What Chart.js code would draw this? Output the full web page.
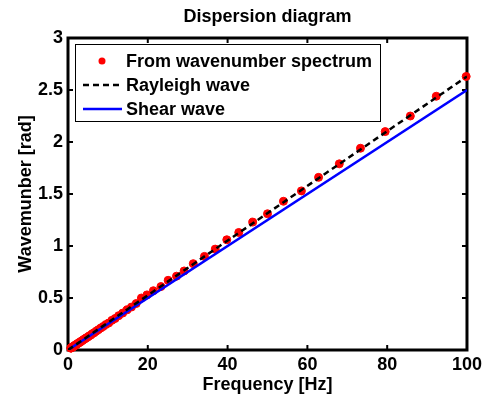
<!DOCTYPE html>
<html>
<head>
<meta charset="utf-8">
<script src="https://cdn.jsdelivr.net/npm/chart.js@4/dist/chart.umd.min.js"></script>
<style>
  html, body { margin: 0; padding: 0; background: #fff; }
  #wrap { width: 486px; height: 398px; }
</style>
</head>
<body>
<div id="wrap"><canvas id="chart" width="486" height="398"></canvas></div>
<script>
// measured points (Hz, rad)
const freqHz = [
  0.7, 0.76, 0.82, 0.88, 0.95, 1.02, 1.1, 1.19, 1.28, 1.38, 1.49, 1.6, 1.72, 1.86,
  2.0, 2.15, 2.32, 2.5, 2.69, 2.9, 3.12, 3.36, 3.62, 3.9, 4.2, 4.52, 4.87, 5.25,
  5.65, 6.1, 6.55, 7.05, 7.6, 8.2, 8.8, 9.5, 10.2, 11.0, 11.8, 12.7, 13.7, 14.8,
  15.9, 17.1, 18.4, 19.8, 21.4, 23.3, 25.1, 27.2, 29.1, 31.4, 34.2, 36.9, 39.8,
  42.8, 46.3, 50.0, 54.0, 58.5, 62.8, 68.0, 73.3, 79.5, 85.8, 92.3, 99.8
];
const wavenumber = [
  0.018, 0.019, 0.021, 0.022, 0.024, 0.026, 0.027, 0.030, 0.032, 0.035, 0.037, 0.041, 0.043, 0.047,
  0.050, 0.055, 0.058, 0.064, 0.067, 0.074, 0.078, 0.086, 0.091, 0.100, 0.106, 0.116, 0.122, 0.134,
  0.142, 0.157, 0.166, 0.181, 0.195, 0.211, 0.226, 0.245, 0.260, 0.285, 0.303, 0.330, 0.355, 0.386,
  0.413, 0.447, 0.50, 0.53, 0.57, 0.61, 0.67, 0.71, 0.76, 0.83, 0.90, 0.97, 1.06,
  1.13, 1.23, 1.31, 1.43, 1.53, 1.66, 1.79, 1.94, 2.10, 2.25, 2.44, 2.63
];
// theoretical curves
const lineFreq = [0, 100];
const rayleighK = [0, 2.63];
const shearK = [0, 2.5];
const seriesNames = ['From wavenumber spectrum', 'Rayleigh wave', 'Shear wave'];
const chartTitle = 'Dispersion diagram';

const pts = (xs, ys) => xs.map((v, i) => ({ x: v, y: ys[i] }));
const FONT = 'bold 18px Arial, "Liberation Sans", sans-serif';

Chart.defaults.font.family = 'Arial, "Liberation Sans", sans-serif';
Chart.defaults.font.size = 18;
Chart.defaults.font.weight = 'bold';
Chart.defaults.color = '#000';

// box + inward ticks like matlab, title centred on the axes
const frame = {
  id: 'frame',
  beforeDatasetsDraw(chart) {
    const { ctx, chartArea: a, scales: { x, y } } = chart;
    ctx.save();
    ctx.strokeStyle = '#000';
    ctx.lineWidth = 2;
    ctx.beginPath();
    x.ticks.forEach(t => {
      const px = x.getPixelForValue(t.value);
      ctx.moveTo(px, a.bottom); ctx.lineTo(px, a.bottom - 5);
      ctx.moveTo(px, a.top); ctx.lineTo(px, a.top + 5);
    });
    y.ticks.forEach(t => {
      const py = y.getPixelForValue(t.value);
      ctx.moveTo(a.left, py); ctx.lineTo(a.left + 5, py);
      ctx.moveTo(a.right, py); ctx.lineTo(a.right - 5, py);
    });
    ctx.stroke();
    ctx.lineWidth = 3;
    ctx.strokeRect(a.left, a.top, a.right - a.left, a.bottom - a.top);

    ctx.fillStyle = '#000';
    ctx.font = FONT;
    ctx.textAlign = 'center';
    ctx.textBaseline = 'middle';
    ctx.fillText(chartTitle, (a.left + a.right) / 2, 17);
    ctx.restore();
  }
};

const boxLegend = {
  id: 'boxLegend',
  afterDatasetsDraw(chart) {
    const { ctx, chartArea: a } = chart;
    const bx = a.left + 7, by = a.top + 6, bw = 305, bh = 77;
    ctx.save();
    ctx.fillStyle = '#fff';
    ctx.fillRect(bx, by, bw, bh);
    ctx.strokeStyle = '#000';
    ctx.lineWidth = 1;
    ctx.strokeRect(bx + 0.5, by + 0.5, bw, bh);
    chart.data.datasets.forEach((ds, i) => {
      const cy = by + 17 + i * 24;
      if (ds.showLine) {
        ctx.strokeStyle = ds.borderColor;
        ctx.lineWidth = ds.borderWidth;
        ctx.setLineDash(ds.borderDash || []);
        ctx.beginPath();
        ctx.moveTo(bx + 8, cy);
        ctx.lineTo(bx + 47, cy);
        ctx.stroke();
        ctx.setLineDash([]);
      } else {
        ctx.fillStyle = ds.backgroundColor;
        ctx.beginPath();
        ctx.arc(bx + 27, cy, 3.5, 0, Math.PI * 2);
        ctx.fill();
      }
      ctx.fillStyle = '#000';
      ctx.font = FONT;
      ctx.textAlign = 'left';
      ctx.textBaseline = 'middle';
      ctx.fillText(ds.label, bx + 51, cy + 1);
    });
    ctx.restore();
  }
};

new Chart(document.getElementById('chart'), {
  type: 'scatter',
  data: {
    datasets: [
      {
        label: seriesNames[0],
        data: pts(freqHz, wavenumber),
        showLine: false,
        pointStyle: 'circle',
        pointRadius: 4,
        pointBorderWidth: 1,
        backgroundColor: '#ff0000',
        borderColor: '#ff0000',
        clip: false,
        order: 3
      },
      {
        label: seriesNames[1],
        data: pts(lineFreq, rayleighK),
        showLine: true,
        borderColor: '#000',
        borderWidth: 2.5,
        borderDash: [6, 4],
        pointRadius: 0,
        order: 1
      },
      {
        label: seriesNames[2],
        data: pts(lineFreq, shearK),
        showLine: true,
        borderColor: '#0000ff',
        borderWidth: 2.5,
        pointRadius: 0,
        order: 2
      }
    ]
  },
  options: {
    responsive: false,
    animation: false,
    layout: { padding: { left: 0, right: 18, top: 38, bottom: 0 } },
    plugins: {
      legend: { display: false },
      tooltip: { enabled: false },
      title: { display: false }
    },
    scales: {
      x: {
        type: 'linear',
        min: 0,
        max: 100,
        ticks: { stepSize: 20, padding: 4, maxRotation: 0 },
        grid: { display: false, drawTicks: false },
        border: { display: false },
        title: { display: true, text: 'Frequency [Hz]', padding: { top: 0, bottom: 2 } },
        afterFit(s) { s.height = 48; }
      },
      y: {
        type: 'linear',
        min: 0,
        max: 3,
        ticks: { stepSize: 0.5, padding: 5, callback: v => String(v) },
        grid: { display: false, drawTicks: false },
        border: { display: false },
        title: { display: true, text: 'Wavemunber [rad]', padding: { top: 15, bottom: 0 } },
        afterFit(s) { s.width = 68; }
      }
    }
  },
  plugins: [frame, boxLegend]
});
</script>
</body>
</html>
